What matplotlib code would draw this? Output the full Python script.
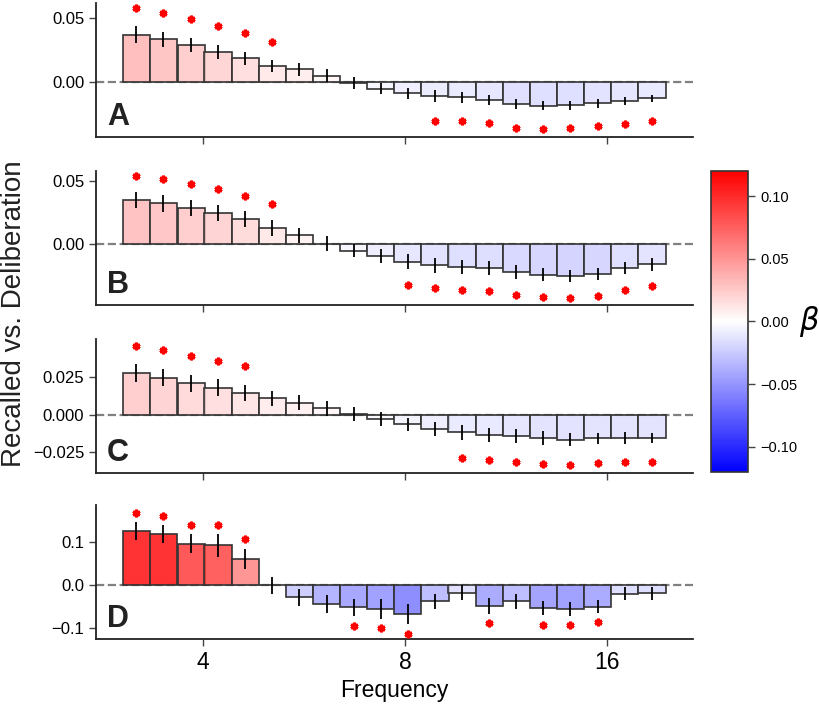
import numpy as np
import matplotlib
matplotlib.use("Agg")
import matplotlib.pyplot as plt
from matplotlib.colors import Normalize
from matplotlib.cm import ScalarMappable

plt.rcParams['font.family'] = ['Liberation Sans', 'DejaVu Sans']
plt.rcParams['mathtext.fontset'] = 'dejavusans'

# frequency of each bar (Hz), log spaced
freqs = [3.18, 3.49, 3.84, 4.21, 4.62, 5.07, 5.56, 6.11, 6.70, 7.36,
         8.07, 8.86, 9.72, 10.67, 11.71, 12.85, 14.10, 15.48, 16.99, 18.65]

beta_a = [0.0372, 0.0335, 0.0290, 0.0238, 0.0186, 0.0126, 0.0100, 0.0050, -0.0008, -0.0052,
          -0.0089, -0.0110, -0.0120, -0.0138, -0.0172, -0.0185, -0.0183, -0.0167, -0.0149, -0.0128]
err_a = [0.0065, 0.0060, 0.0058, 0.0056, 0.0053, 0.0045, 0.0050, 0.0050, 0.0045, 0.0045,
         0.0046, 0.0046, 0.0042, 0.0040, 0.0040, 0.0037, 0.0033, 0.0033, 0.0033, 0.0030]
sig_a = [0, 1, 2, 3, 4, 5, 11, 12, 13, 14, 15, 16, 17, 18, 19]

beta_b = [0.0350, 0.0324, 0.0289, 0.0247, 0.0197, 0.0131, 0.0073, 0.0004, -0.0050, -0.0095,
          -0.0137, -0.0166, -0.0179, -0.0190, -0.0219, -0.0240, -0.0250, -0.0237, -0.0185, -0.0156]
err_b = [0.0066, 0.0065, 0.0062, 0.0063, 0.0063, 0.0062, 0.0060, 0.0058, 0.0053, 0.0055,
         0.0060, 0.0057, 0.0055, 0.0055, 0.0053, 0.0050, 0.0049, 0.0049, 0.0049, 0.0051]
sig_b = [0, 1, 2, 3, 4, 5, 10, 11, 12, 13, 14, 15, 16, 17, 18, 19]

beta_c = [0.0277, 0.0247, 0.0209, 0.0179, 0.0146, 0.0109, 0.0081, 0.0044, 0.0004, -0.0028,
          -0.0064, -0.0094, -0.0116, -0.0131, -0.0142, -0.0155, -0.0164, -0.0157, -0.0153, -0.0153]
err_c = [0.0059, 0.0058, 0.0057, 0.0056, 0.0055, 0.0052, 0.0052, 0.0049, 0.0047, 0.0048,
         0.0046, 0.0049, 0.0048, 0.0046, 0.0046, 0.0045, 0.0044, 0.0039, 0.0039, 0.0035]
sig_c = [0, 1, 2, 3, 4, 12, 13, 14, 15, 16, 17, 18, 19]

beta_d = [0.1260, 0.1193, 0.0968, 0.0930, 0.0612, 0.0000, -0.0279, -0.0435, -0.0512, -0.0551,
          -0.0665, -0.0372, -0.0171, -0.0481, -0.0372, -0.0527, -0.0551, -0.0496, -0.0194, -0.0188]
err_d = [0.0205, 0.0210, 0.0220, 0.0260, 0.0236, 0.0205, 0.0205, 0.0210, 0.0205, 0.0225,
         0.0240, 0.0180, 0.0178, 0.0186, 0.0170, 0.0167, 0.0163, 0.0147, 0.0147, 0.0143]
sig_d = [0, 1, 2, 3, 4, 8, 9, 10, 13, 15, 16, 17]

panels = [
    # letter, values, errors, significant bins, ylim, yticks, star offset
    ("A", beta_a, err_a, sig_a, (-0.043, 0.062), [0.0, 0.05], 0.0145),
    ("B", beta_b, err_b, sig_b, (-0.048, 0.058), [0.0, 0.05], 0.0125),
    ("C", beta_c, err_c, sig_c, (-0.0386, 0.0504), [-0.025, 0.0, 0.025], 0.0124),
    ("D", beta_d, err_d, sig_d, (-0.125, 0.187), [-0.1, 0.0, 0.1], 0.022),
]
bottoms = [0.8068, 0.5698, 0.3329, 0.0987]

norm = Normalize(vmin=-0.12, vmax=0.12)
cmap = plt.get_cmap("bwr")

x = np.log2(freqs)
width = np.log2(freqs[1] / freqs[0])

fig = plt.figure(figsize=(8.2, 7.09), dpi=100)

for (letter, vals, errs, sig, ylim, yticks, off), b in zip(panels, bottoms):
    ax = fig.add_axes([0.1171, b, 0.728, 0.189])
    vals = np.array(vals)
    errs = np.array(errs)
    cols = cmap(norm(vals))
    cols[:, 3] = 0.8
    ax.bar(x, vals, width=width, color=cols, edgecolor="#333333", linewidth=1.2, zorder=2)
    ax.errorbar(x, vals, yerr=errs, fmt="none", ecolor="black", elinewidth=1.3, capsize=0, zorder=3)
    ax.axhline(0, color="gray", ls="--", lw=1.6, zorder=1)
    sig = np.array(sig)
    sgn = np.sign(vals[sig])
    ys = vals[sig] + sgn * (errs[sig] + off)
    ax.plot(x[sig], ys, ls="none", marker=(6, 2, 0), ms=5.5, mew=2.0, color="red", zorder=4)

    ax.set_xlim(1.47, 4.424)
    ax.set_ylim(*ylim)
    ax.set_yticks(yticks)
    ax.set_xticks(np.log2([4, 8, 16]))
    if letter == "D":
        ax.set_xticklabels(["4", "8", "16"])
        ax.set_xlabel("Frequency", fontsize=16.5)
    else:
        ax.set_xticklabels([])
    ax.tick_params(axis="y", labelsize=12, length=5, width=1, color="#444444")
    ax.tick_params(axis="x", labelsize=16.5, length=5, width=1, color="#444444")
    for s in ["top", "right"]:
        ax.spines[s].set_visible(False)
    for s in ["left", "bottom"]:
        ax.spines[s].set_linewidth(1.3)
        ax.spines[s].set_color("#222222")
    ax.text(0.018, 0.04, letter, transform=ax.transAxes, fontsize=22,
            fontweight="bold", color="#222222", va="bottom", ha="left")

fig.text(0.017, 0.557, "Recalled vs. Deliberation", rotation=90, fontsize=20,
         va="center", ha="center", color="#222222")

cax = fig.add_axes([0.8667, 0.3343, 0.0459, 0.4245])
sm = ScalarMappable(norm=norm, cmap=cmap)
cb = fig.colorbar(sm, cax=cax, ticks=[-0.1, -0.05, 0.0, 0.05, 0.1])
cb.ax.tick_params(labelsize=10.5, length=5, width=1, color="#444444")
cb.outline.set_edgecolor("#333333")
cb.outline.set_linewidth(1.2)
cb.ax.set_yticklabels(["\u22120.10", "\u22120.05", "0.00", "0.05", "0.10"])
cb.set_label(r"$\beta$", rotation=0, fontsize=22, labelpad=9, va="center")

fig.savefig("out.png", dpi=100)
